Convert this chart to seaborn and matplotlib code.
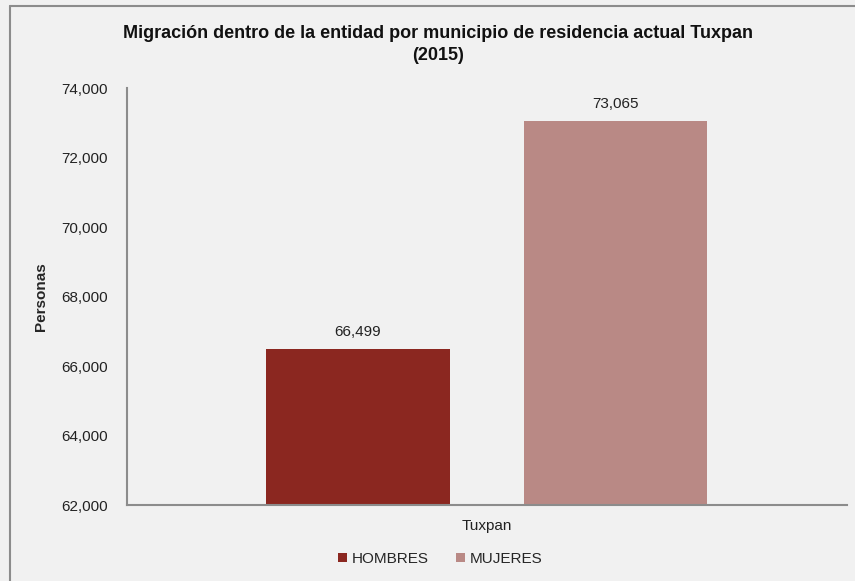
import matplotlib
matplotlib.use("Agg")
from matplotlib import pyplot as plt
from matplotlib.lines import Line2D
from matplotlib.ticker import FuncFormatter
import seaborn as sns
import pandas as pd

# data
municipio = ["Tuxpan"]
sexo = ["HOMBRES", "MUJERES"]
personas = [66499, 73065]
colores = ["#8B2720", "#B98985"]

df = pd.DataFrame({"municipio": municipio * 2, "sexo": sexo, "personas": personas})

sns.set_style("white")
plt.rcParams["font.family"] = ["Liberation Sans", "DejaVu Sans"]
bg = "#F1F1F1"

fig = plt.figure(figsize=(8.55, 5.81), dpi=100, facecolor=bg)
ax = fig.add_axes([0.1485, 0.130, 0.8418, 0.7185])
ax.set_facecolor(bg)

sns.barplot(data=df, x="municipio", y="personas", hue="sexo", palette=colores,
            width=0.716, gap=0.288, ax=ax, saturation=1, legend=True, linewidth=0)

ax.set_ylim(62000, 74000)
ax.set_yticks(range(62000, 74001, 2000))
ax.yaxis.set_major_formatter(FuncFormatter(lambda v, p: f"{int(v):,}"))
ax.tick_params(axis="both", length=0, labelsize=11, colors="#222222")
ax.tick_params(axis="y", pad=14)
ax.tick_params(axis="x", pad=10)
ax.set_xlabel("")
ax.set_ylabel("Personas", fontsize=11, fontweight="bold", labelpad=9)

for c in ax.containers:
    ax.bar_label(c, labels=[f"{int(v):,}" for v in c.datavalues], padding=7,
                 fontsize=11, color="#222222")

for s in ["top", "right"]:
    ax.spines[s].set_visible(False)
for s in ["left", "bottom"]:
    ax.spines[s].set_color("#8C8C8C")
    ax.spines[s].set_linewidth(1.5)

fig.suptitle("Migración dentro de la entidad por municipio de residencia actual Tuxpan\n(2015)",
             x=0.512, y=0.923, va="center", fontsize=13, fontweight="bold",
             linespacing=1.35, color="#111111")

ax.legend(loc="center", bbox_to_anchor=(0.435, -0.128), ncol=2, frameon=False,
          fontsize=11, handlelength=0.6, handleheight=0.6, handletextpad=0.3,
          columnspacing=1.8)

# outer frame (left and top edges visible in the reference)
fig.add_artist(Line2D([10 / 855, 10 / 855], [0, 1 - 6 / 581], transform=fig.transFigure,
                      color="#8C8C8C", lw=1.5))
fig.add_artist(Line2D([10 / 855, 1], [1 - 6 / 581, 1 - 6 / 581], transform=fig.transFigure,
                      color="#8C8C8C", lw=1.5))

fig.savefig("out.png", dpi=100, facecolor=bg)
